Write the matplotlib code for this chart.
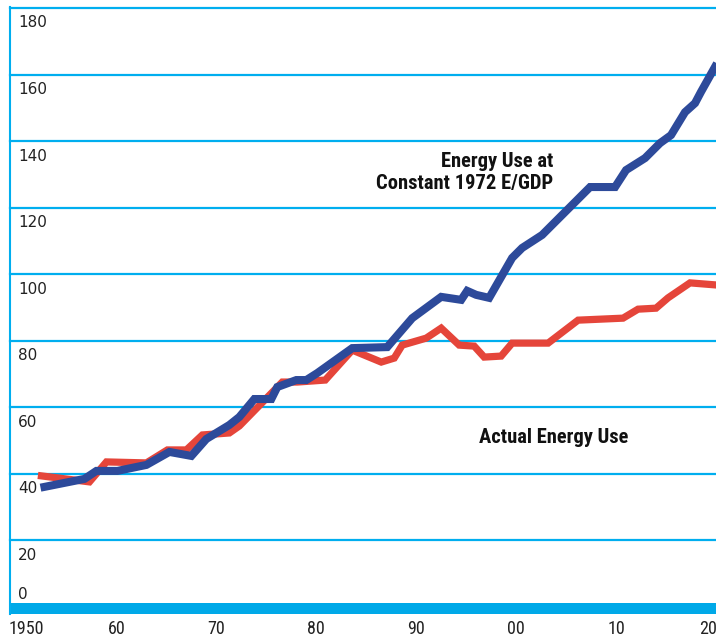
import numpy as np
import matplotlib.pyplot as plt
from matplotlib.transforms import ScaledTranslation

# Energy use at constant 1972 E/GDP (blue)
const_years = [1952.8, 1956.8, 1958.0, 1960.1, 1963.0, 1965.3, 1967.5, 1969.0, 1971.3,
               1972.3, 1973.8, 1975.5, 1976.1, 1978.0, 1979.0, 1980.1, 1983.6, 1987.1,
               1989.6, 1992.5, 1994.5, 1995.1, 1996.0, 1997.3, 1999.6, 2000.6, 2002.6,
               2007.4, 2009.9, 2011.0, 2012.9, 2014.4, 2015.5, 2016.9, 2017.9, 2018.5,
               2019.9]
const_use = [36.1, 38.5, 40.9, 40.9, 42.7, 46.6, 45.4, 50.5, 54.7,
             57.1, 62.5, 62.5, 66.1, 68.2, 68.2, 70.3, 77.8, 78.1,
             86.8, 93.2, 92.3, 95.0, 93.8, 92.9, 104.9, 107.9, 111.8,
             126.2, 126.2, 131.3, 134.9, 139.4, 141.8, 148.7, 151.4, 154.8,
             162.3]

# Actual energy use (red)
actual_years = [1952.5, 1957.3, 1959.0, 1963.0, 1965.1, 1967.0, 1968.6, 1971.3, 1972.3,
                1976.6, 1978.1, 1980.9, 1983.6, 1986.5, 1987.8, 1988.6, 1991.0, 1992.5,
                1994.3, 1995.8, 1996.8, 1998.5, 1999.6, 2003.2, 2006.2, 2010.7, 2012.2,
                2014.0, 2015.2, 2017.4, 2019.9]
actual_use = [39.4, 37.6, 43.6, 43.3, 47.2, 47.2, 51.7, 52.3, 54.4,
              67.6, 67.6, 68.2, 77.2, 73.6, 74.8, 78.7, 80.8, 83.8,
              78.7, 78.4, 75.1, 75.4, 79.3, 79.3, 86.2, 86.8, 89.5,
              89.8, 92.9, 97.4, 96.8]

grid_vals = [20, 40, 60, 80, 100, 120, 140, 160, 180]
x_ticks = [1950, 1960, 1970, 1980, 1990, 2000, 2010, 2020]
x_labels = ['1950', '60', '70', '80', '90', '00', '10', '20']

CYAN = '#00AEEF'
BLUE = '#2D4A9A'
RED = '#E5453A'
NARROW = ['Liberation Sans Narrow', 'Roboto Condensed', 'Roboto', 'DejaVu Sans']

fig = plt.figure(figsize=(7.16, 6.41), dpi=100)
ax = fig.add_axes([10 / 716, 1 - 614 / 641, 706 / 716, 607 / 641])
ax.set_xlim(1949.35, 2019.85)
ax.set_ylim(-2.1, 180.3)

# frame: thin cyan left edge, nothing else
for s in ['top', 'right', 'bottom']:
    ax.spines[s].set_visible(False)
ax.spines['left'].set_color(CYAN)
ax.spines['left'].set_linewidth(1.5)

# horizontal rules and thick base bar
for v in grid_vals:
    ax.axhline(v, color=CYAN, lw=1.6, zorder=1, clip_on=False)
ax.axhspan(-2.1, 1.2, color='#00A9E8', lw=0, zorder=1)

# y labels sit just under each rule (0 sits on the bar)
for v in grid_vals:
    ax.annotate(str(v), xy=(0, v), xycoords=('axes fraction', 'data'),
                xytext=(8, -15), textcoords='offset pixels',
                ha='left', va='center', fontsize=11, color='#222222')
ax.annotate('0', xy=(0, 0), xycoords=('axes fraction', 'data'),
            xytext=(8, 13), textcoords='offset pixels',
            ha='left', va='center', fontsize=11, color='#222222')
ax.set_yticks([])

ax.set_xticks(x_ticks)
ax.set_xticklabels(x_labels, family=NARROW, fontsize=13, color='#222222')
ax.tick_params(axis='x', length=0, pad=4)
# nudge the end labels in so they stay on the page like the original
xl = ax.get_xticklabels()
xl[0].set_transform(xl[0].get_transform() + ScaledTranslation(0.10, 0, fig.dpi_scale_trans))
xl[-1].set_transform(xl[-1].get_transform() + ScaledTranslation(-0.08, 0, fig.dpi_scale_trans))

ax.plot(actual_years, actual_use, color=RED, lw=5.2, solid_joinstyle='miter', zorder=3)
ax.plot(const_years, const_use, color=BLUE, lw=5.8, solid_joinstyle='miter', zorder=4)

ax.text(2003.7, 130.6, 'Energy Use at\nConstant 1972 E/GDP', ha='right', va='center',
        multialignment='right', family=NARROW, fontweight='bold', fontsize=14.8,
        linespacing=1.15, color='#111111')
ax.text(2003.8, 50.8, 'Actual Energy Use', ha='center', va='center',
        family=NARROW, fontweight='bold', fontsize=14.8, color='#111111')

fig.savefig('out.png', dpi=100)
